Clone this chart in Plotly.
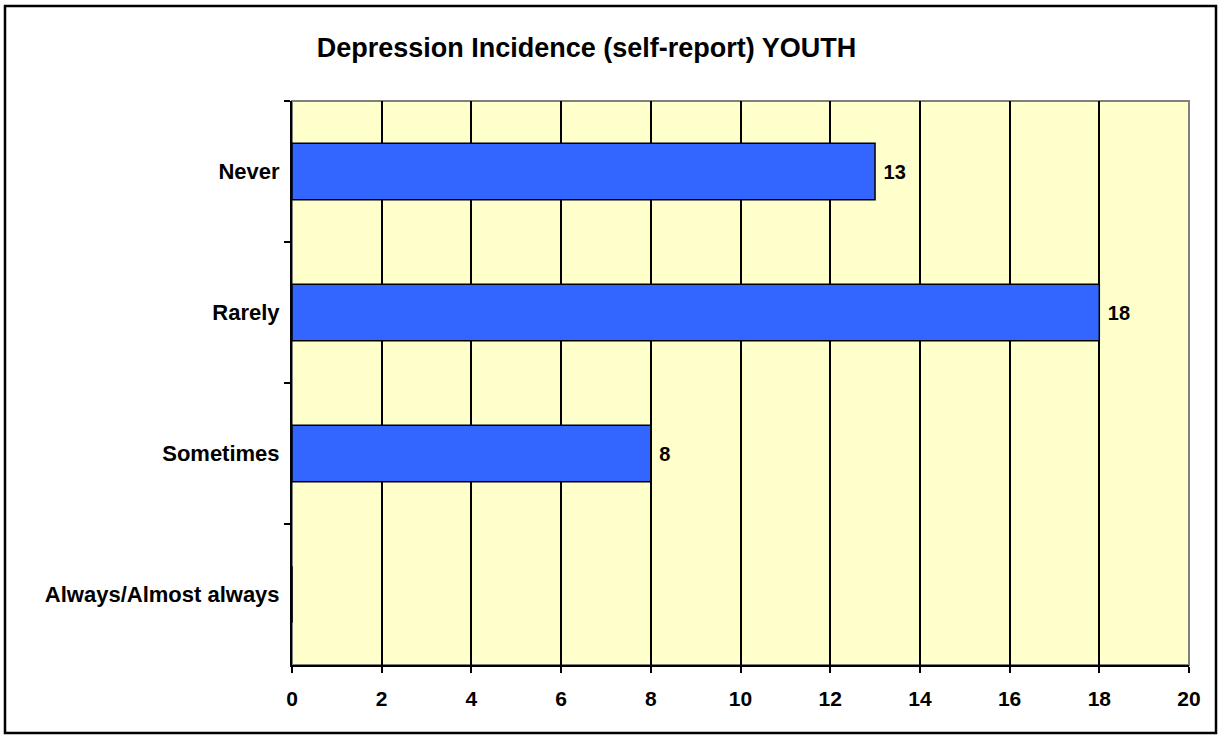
import plotly.graph_objects as go

categories = ["Never", "Rarely", "Sometimes", "Always/Almost always"]
values = [13, 18, 8, 0]
x_ticks = list(range(0, 21, 2))

W, H = 1221, 738
L, R, T, B = 292, 1189, 101, 665

fig = go.Figure()
fig.add_trace(go.Bar(
    x=values, y=categories, orientation="h",
    marker=dict(color="#3366FF", line=dict(color="black", width=1.5)),
    width=0.4,
    text=[" " + str(v) if v else "" for v in values],
    textposition="outside",
    textfont=dict(family="Arial", size=20, color="black", weight="bold"),
    cliponaxis=False,
))

pw = R - L
ph = B - T
def px2paper_x(px):
    return (px - L) / pw
def px2paper_y(py):
    return (B - py) / ph

fig.update_layout(
    width=W, height=H,
    margin=dict(l=L, r=W - R, t=T, b=H - B),
    paper_bgcolor="white",
    plot_bgcolor="#FFFFCC",
    showlegend=False,
    title=dict(text="<b>Depression Incidence (self-report) YOUTH</b>",
               x=586.5 / W, xanchor="center", y=1 - 48 / H, yanchor="middle",
               font=dict(family="Arial", size=27, color="black")),
    font=dict(family="Arial", color="black"),
    bargap=0.6,
    xaxis=dict(range=[0, 20], tickvals=x_ticks, showgrid=True, gridcolor="black",
               gridwidth=1.5, showline=True, linecolor="black", linewidth=2,
               ticks="outside", ticklen=6, tickwidth=1.5, tickcolor="black",
               zeroline=False, ticklabelstandoff=8,
               tickfont=dict(family="Arial", size=21, color="black", weight="bold")),
    yaxis=dict(categoryorder="array", categoryarray=categories, autorange="reversed",
               showgrid=False, showline=True, linecolor="black", linewidth=2,
               ticks="outside", ticklen=6, tickwidth=1.5, tickcolor="black",
               tickson="boundaries", ticklabelstandoff=6,
               tickfont=dict(family="Arial", size=22, color="black", weight="bold")),
    shapes=[
        dict(type="rect", xref="paper", yref="paper", x0=0, x1=1, y0=0, y1=1,
             line=dict(color="#808080", width=2), layer="below"),
        dict(type="rect", xref="paper", yref="paper",
             x0=px2paper_x(5), x1=px2paper_x(1216), y0=px2paper_y(733), y1=px2paper_y(6),
             line=dict(color="black", width=2.5)),
    ],
)

fig.write_html("out.html", config={"displayModeBar": False})
with open("out.html", "r", encoding="utf-8") as f:
    html = f.read()
html = html.replace("<head>", "<head><style>html,body{margin:0;padding:0;overflow:hidden;}</style>", 1)
with open("out.html", "w", encoding="utf-8") as f:
    f.write(html)
